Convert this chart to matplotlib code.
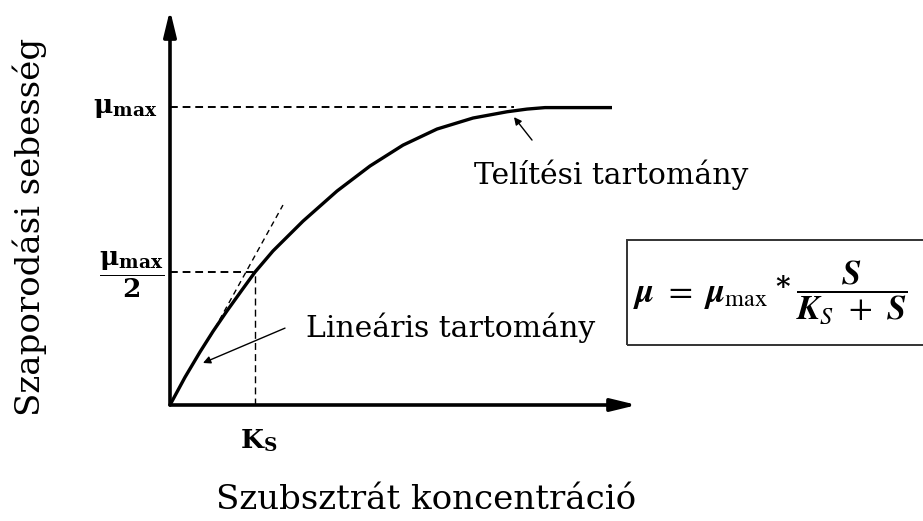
import numpy as np
import matplotlib.pyplot as plt
from matplotlib.patches import Rectangle

plt.rcParams['mathtext.fontset'] = 'custom'
plt.rcParams['mathtext.rm'] = 'STIXGeneral'
plt.rcParams['mathtext.it'] = 'STIXGeneral:italic:bold'
plt.rcParams['mathtext.sf'] = 'STIXGeneral:italic'
plt.rcParams['mathtext.bf'] = 'DejaVu Serif:bold'

# Monod-görbe (S koncentráció, mu sebesség), Ks = 1, mu_max = 1
S_pont = [0.0, 0.176, 0.353, 0.506, 0.671, 0.847, 1.0, 1.212, 1.565, 1.965,
          2.353, 2.741, 3.141, 3.565, 3.965, 4.2, 4.412, 5.2]
mu_pont = [0.0, 0.093, 0.178, 0.247, 0.316, 0.386, 0.446, 0.517, 0.617, 0.718,
           0.802, 0.872, 0.926, 0.963, 0.984, 0.993, 0.998, 0.998]
mu_max = 1.0
mu_fel = 0.446
Ks = 1.0
# lineáris szakasz érintője
erinto_S = [0.471, 1.329]
erinto_mu = [0.228, 0.671]

x_max = 467 / 85
y_max = 395 / 298

fig = plt.figure(figsize=(9.23, 5.21), dpi=100)
ax = fig.add_axes([170 / 923, 116 / 521, 467 / 923, 395 / 521])
ax.set_xlim(0, x_max)
ax.set_ylim(0, y_max)
ax.axis('off')

# tengelyek nyíllal
nyil = dict(arrowstyle='-|>,head_length=0.7,head_width=0.17', lw=2.6, color='black',
            mutation_scale=22, shrinkA=0, shrinkB=0)
ax.annotate('', xy=(x_max, 0), xytext=(0, 0), arrowprops=nyil, annotation_clip=False)
ax.annotate('', xy=(0, y_max), xytext=(0, 0), arrowprops=nyil, annotation_clip=False)

# segédvonalak
ax.plot([0, 4.05], [mu_max, mu_max], color='black', lw=1.4, ls=(0, (4, 2.5)), clip_on=False)
ax.plot([0, Ks], [mu_fel, mu_fel], color='black', lw=1.4, ls=(0, (4, 2.5)), clip_on=False)
ax.plot([Ks, Ks], [0, mu_fel], color='black', lw=1.0, ls=(0, (5, 3)), clip_on=False)
ax.plot(erinto_S, erinto_mu, color='black', lw=1.0, ls=(0, (4, 3)), clip_on=False)

# a görbe
ax.plot(S_pont, mu_pont, color='black', lw=2.4, solid_capstyle='butt',
        solid_joinstyle='round', clip_on=False)

# tengelyfeliratok a jellemző pontoknál
ax.text(-0.15, mu_max, r'$\mathbf{\mu}_{\mathbf{max}}$', ha='right', va='center', fontsize=19)
ax.text(-0.45, mu_fel - 0.01, r'$\dfrac{\mathbf{\mu}_{\mathbf{max}}}{\mathbf{2}}$',
        ha='center', va='center', fontsize=19)
ax.text(Ks + 0.05, -0.12, r'$\mathbf{K}_{\mathbf{S}}$', ha='center', va='center', fontsize=19)

# tartományok
vekony = dict(arrowstyle='-|>', lw=1.0, color='black', mutation_scale=11,
              shrinkA=0, shrinkB=0)
ax.annotate('', xy=(0.388, 0.141), xytext=(1.353, 0.258), arrowprops=vekony)
ax.text(1.6, 0.258, 'Lineáris tartomány', family='DejaVu Serif', fontsize=21.5,
        ha='left', va='center')
ax.annotate('', xy=(4.047, 0.966), xytext=(4.259, 0.889), arrowprops=vekony)
ax.text(3.576, 0.772, 'Telítési tartomány', family='DejaVu Serif', fontsize=21.5,
        ha='left', va='center')

# tengelycímek
fig.text(30 / 923, 1 - 227 / 521, 'Szaporodási sebesség', family='DejaVu Serif',
         fontsize=24.5, rotation=90, ha='center', va='center')
fig.text(426 / 923, 1 - 500 / 521, 'Szubsztrát koncentráció', family='DejaVu Serif',
         fontsize=24.5, ha='center', va='center')

# Monod-egyenlet keretben
fig.patches.append(Rectangle((627 / 923, 1 - 345 / 521), 0.4, 105 / 521,
                             transform=fig.transFigure, fill=False, lw=1.4,
                             edgecolor='#333333', clip_on=False))
fig.text(633 / 923, 1 - 294 / 521, r'$\mu\ =\ \mu_{\mathrm{max}}$',
         fontsize=25, ha='left', va='center')
fig.text(783 / 923, 1 - 288 / 521, '*', family='DejaVu Serif', weight='bold',
         fontsize=20, ha='center', va='center')
fig.text(796 / 923, 1 - 292 / 521, r'$\dfrac{S}{K_{\mathsf{S}}\ +\ S}$',
         fontsize=25, ha='left', va='center')

fig.savefig('out.png', dpi=100)
